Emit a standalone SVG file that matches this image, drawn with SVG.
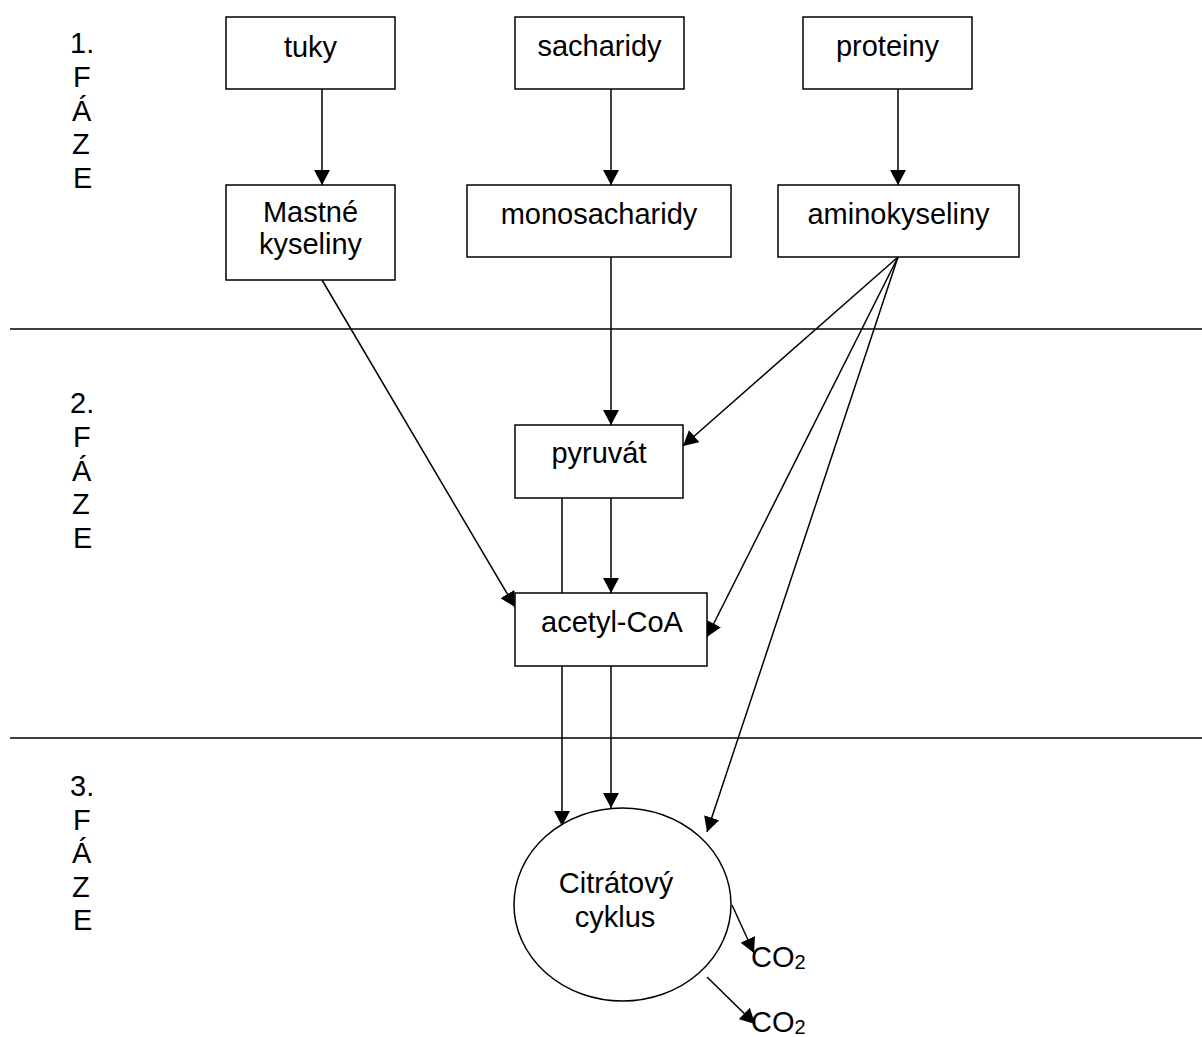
<svg xmlns="http://www.w3.org/2000/svg" width="1202" height="1037" viewBox="0 0 1202 1037">
<style>
.box{fill:#fff;stroke:#000;stroke-width:1.5}
.t{font-family:"Liberation Sans",Arial,sans-serif;font-size:29px;fill:#000}
.c{text-anchor:middle}
.ln{stroke:#000;stroke-width:1.5;fill:none}
.ar{stroke:#000;stroke-width:1.5;fill:none;marker-end:url(#ah)}
</style>
<defs>
<marker id="ah" markerUnits="userSpaceOnUse" markerWidth="15" markerHeight="16" viewBox="0 0 15 16" refX="15" refY="8" orient="auto">
<path d="M0,0 L15,8 L0,16 Z" fill="#000"/>
</marker>
</defs>
<rect width="1202" height="1037" fill="#fff"/>
<g id="phases">
<text class="t" x="70" y="53">1.</text>
<text class="t" x="73" y="87">F</text>
<text class="t" x="72" y="121">Á</text>
<text class="t" x="72" y="154">Z</text>
<text class="t" x="73" y="188">E</text>
<text class="t" x="70" y="413">2.</text>
<text class="t" x="73" y="447">F</text>
<text class="t" x="72" y="481">Á</text>
<text class="t" x="72" y="514">Z</text>
<text class="t" x="73" y="548">E</text>
<text class="t" x="70" y="796">3.</text>
<text class="t" x="73" y="830">F</text>
<text class="t" x="72" y="863">Á</text>
<text class="t" x="72" y="897">Z</text>
<text class="t" x="73" y="930">E</text>
<line class="ln" x1="10" y1="329" x2="1202" y2="329"/>
<line class="ln" x1="10" y1="738" x2="1202" y2="738"/>
</g>
<g id="connectors">
<line class="ar" x1="322" y1="89" x2="322" y2="185"/>
<line class="ar" x1="611" y1="89" x2="611" y2="185"/>
<line class="ar" x1="898" y1="89" x2="898" y2="185"/>
<line class="ar" x1="322" y1="280" x2="515" y2="607"/>
<line class="ar" x1="611" y1="257" x2="611" y2="425"/>
<line class="ar" x1="898" y1="257" x2="683" y2="446"/>
<line class="ar" x1="898" y1="257" x2="707" y2="637"/>
<line class="ar" x1="898" y1="257" x2="707" y2="832"/>
<line class="ln" x1="562" y1="498" x2="562" y2="593"/>
<line class="ar" x1="611" y1="498" x2="611" y2="593"/>
<line class="ar" x1="562" y1="666" x2="562" y2="826"/>
<line class="ar" x1="611" y1="666" x2="611" y2="808"/>
<line class="ar" x1="732" y1="905" x2="754" y2="953"/>
<line class="ar" x1="707" y1="977" x2="755" y2="1024"/>
</g>
<g id="tuky"><rect class="box" x="226" y="17" width="169" height="72"/><text class="t c" x="310.5" y="57">tuky</text></g>
<g id="sacharidy"><rect class="box" x="515" y="17" width="169" height="72"/><text class="t c" x="599.5" y="56">sacharidy</text></g>
<g id="proteiny"><rect class="box" x="803" y="17" width="169" height="72"/><text class="t c" x="887.5" y="56">proteiny</text></g>
<g id="mastne"><rect class="box" x="226" y="185" width="169" height="95"/><text class="t c" x="310.5" y="222">Mastné</text><text class="t c" x="310.5" y="254">kyseliny</text></g>
<g id="monosacharidy"><rect class="box" x="467" y="185" width="264" height="72"/><text class="t c" x="599" y="224">monosacharidy</text></g>
<g id="aminokyseliny"><rect class="box" x="778" y="185" width="241" height="72"/><text class="t c" x="898.5" y="224">aminokyseliny</text></g>
<g id="pyruvat"><rect class="box" x="515" y="425" width="168" height="73"/><text class="t c" x="599" y="463">pyruvát</text></g>
<g id="acetylcoa"><rect class="box" x="515" y="593" width="192" height="73"/><text class="t c" x="612" y="632">acetyl-CoA</text></g>
<g id="citratovy"><ellipse class="box" cx="622.5" cy="904.5" rx="108.5" ry="96.5"/><text class="t c" x="616" y="893">Citrátový</text><text class="t c" x="615" y="927">cyklus</text></g>
<g id="co2a"><text class="t" x="751" y="967">CO<tspan font-size="20px" dy="2">2</tspan></text></g>
<g id="co2b"><text class="t" x="751" y="1032">CO<tspan font-size="20px" dy="2">2</tspan></text></g>
</svg>
